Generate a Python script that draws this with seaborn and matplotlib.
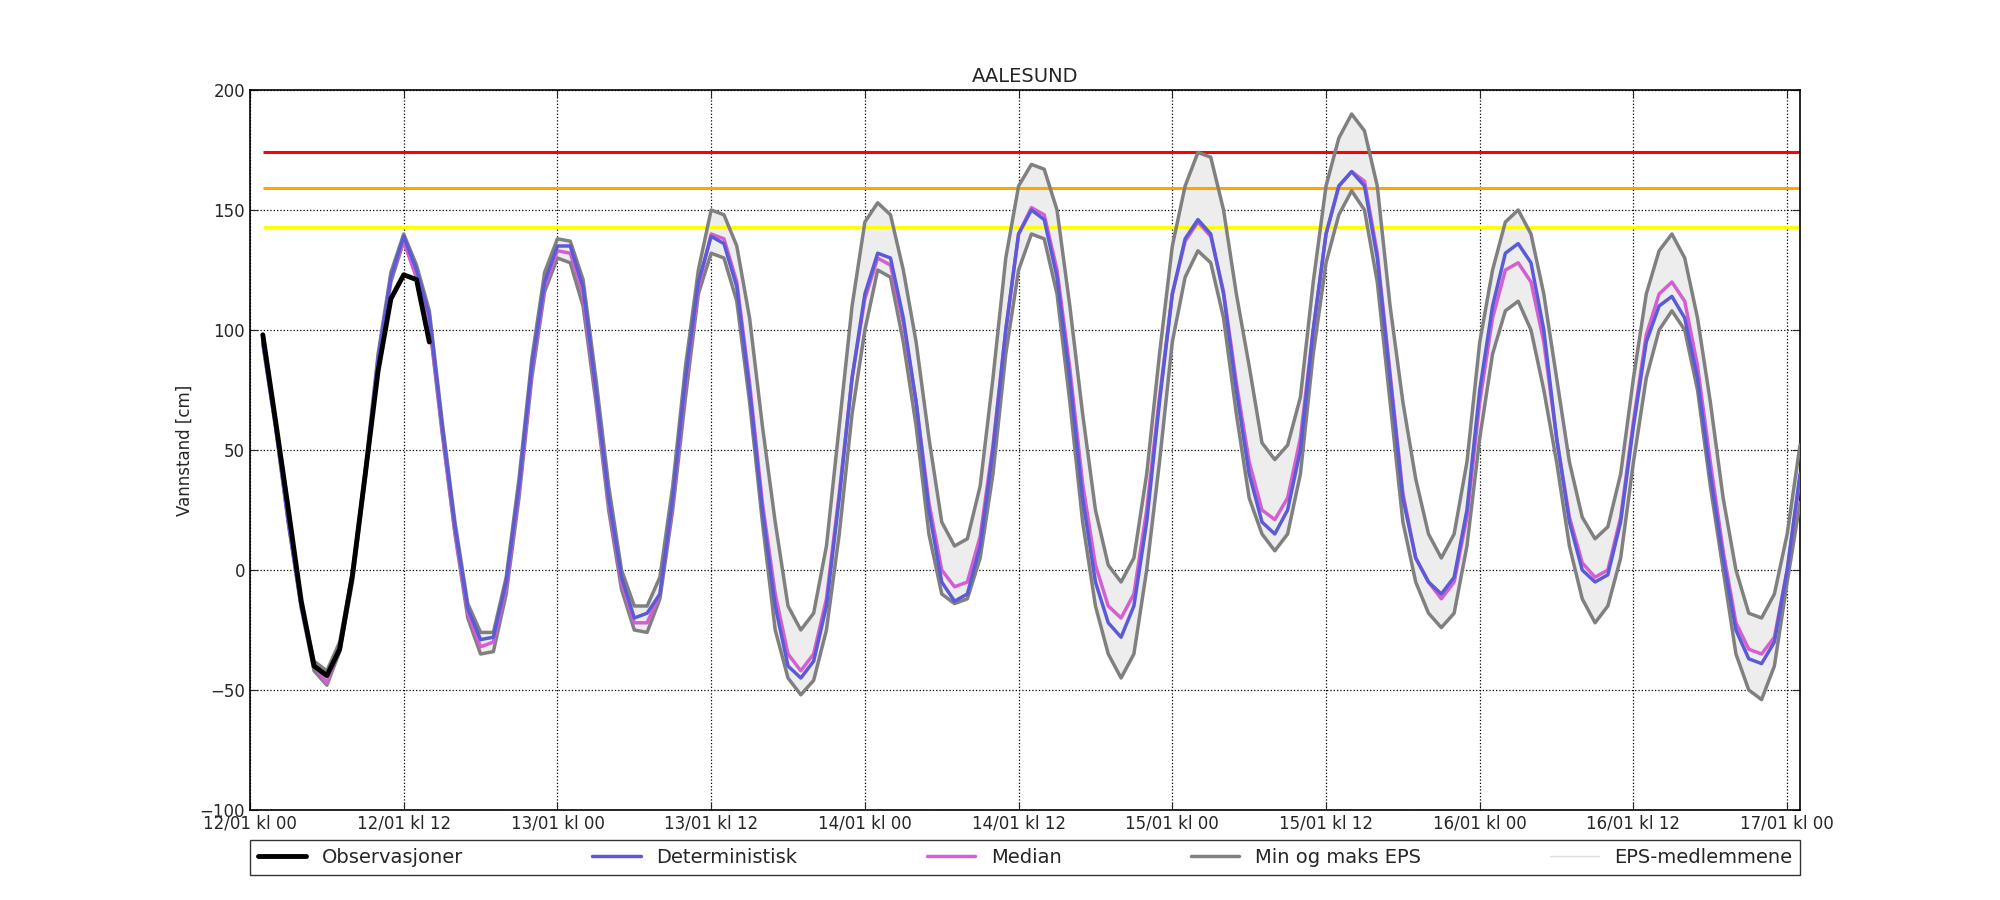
import numpy as np
import pandas as pd
import matplotlib
matplotlib.use("Agg")
import matplotlib.pyplot as plt
import seaborn as sns
from matplotlib.lines import Line2D

obs = [98,62,25,-13,-40,-44,-33,-2,40,83,113,123,121,95]
det = [95,60,20,-15,-40,-44,-32,-3,40,88,
       122,139,125,106,60,18,-16,-29,-28,-5,
       35,85,120,135,135,118,75,30,-3,-20,
       -18,-10,30,80,120,139,136,118,75,25,
       -15,-40,-45,-38,-15,30,80,115,132,130,
       105,70,25,-5,-13,-10,10,50,100,140,
       150,146,122,80,30,-5,-22,-28,-15,20,
       70,115,138,146,140,115,75,40,20,15,
       25,50,100,140,160,166,160,130,80,30,
       5,-5,-10,-3,25,75,110,132,136,128,
       100,55,20,0,-5,-2,20,60,95,110,
       114,105,80,40,5,-25,-37,-39,-30,0,
       40]
med = [95,60,20,-15,-40,-47,-32,-3,40,88,
       122,137,122,104,58,16,-18,-32,-30,-7,
       33,83,118,133,132,115,73,28,-5,-22,
       -22,-10,28,78,118,140,138,120,78,28,
       -10,-35,-42,-35,-12,32,80,113,130,127,
       103,70,28,0,-7,-5,14,52,100,140,
       151,148,125,84,36,2,-15,-20,-10,25,
       72,115,137,145,139,116,78,45,25,21,
       30,55,100,140,160,166,162,132,82,32,
       5,-5,-12,-5,22,70,105,125,128,120,
       95,55,22,3,-3,0,22,62,98,115,
       120,112,85,45,8,-22,-33,-35,-28,0,
       38]
eps_max = [96,61,21,-14,-38,-42,-30,-1,42,90,
       124,140,127,108,62,20,-14,-26,-26,-3,
       38,88,124,138,137,121,80,35,0,-15,
       -15,-3,35,85,125,150,148,135,105,60,
       20,-15,-25,-18,10,60,110,145,153,148,
       125,95,55,20,10,13,35,80,130,160,
       169,167,150,110,65,25,2,-5,5,40,
       90,135,160,174,172,150,115,85,53,46,
       52,72,120,160,180,190,183,160,110,70,
       38,15,5,15,45,95,125,145,150,140,
       115,80,45,22,13,18,40,80,115,133,
       140,130,105,70,30,0,-18,-20,-10,15,
       52]
eps_min = [94,59,19,-16,-42,-48,-34,-5,38,85,
       120,137,122,103,57,15,-20,-35,-34,-10,
       30,80,116,130,128,110,70,25,-8,-25,
       -26,-12,25,72,115,132,130,112,70,20,
       -25,-45,-52,-46,-25,15,65,100,125,122,
       95,60,15,-10,-14,-12,5,40,90,125,
       140,138,115,70,20,-15,-35,-45,-35,0,
       45,95,122,133,128,105,65,30,15,8,
       15,40,90,128,148,158,150,120,70,20,
       -5,-18,-24,-18,10,55,90,108,112,100,
       75,45,10,-12,-22,-15,5,45,80,100,
       108,100,75,35,0,-35,-50,-54,-40,-5,
       28]
thresholds = [174, 159, 143]
thr_colors = ["#ff0000", "#ffa500", "#ffff00"]
tick_labels = ["12/01 kl 00","12/01 kl 12","13/01 kl 00","13/01 kl 12","14/01 kl 00",
               "14/01 kl 12","15/01 kl 00","15/01 kl 12","16/01 kl 00","16/01 kl 12","17/01 kl 00"]

hours = np.arange(1, len(det) + 1)
obs_h = np.arange(1, len(obs) + 1)
df = pd.DataFrame({"h": hours, "det": det, "med": med, "lo": eps_min, "hi": eps_max})

sns.set_style("ticks")
plt.rcParams['font.family'] = ['DejaVu Sans']
fig = plt.figure(figsize=(20, 9), dpi=100)
ax = fig.add_axes([0.125, 0.1, 0.775, 0.8])

ax.fill_between(df.h, df.lo, df.hi, color="#ededed", lw=0, zorder=1)
for y, c in zip(thresholds, thr_colors):
    ax.hlines(y, 1, 121, color=c, lw=2.2, zorder=2)
sns.lineplot(data=df, x="h", y="hi", color="grey", lw=2.5, ax=ax, zorder=3)
sns.lineplot(data=df, x="h", y="lo", color="grey", lw=2.5, ax=ax, zorder=3)
sns.lineplot(data=df, x="h", y="med", color="#d35fd3", lw=2.5, ax=ax, zorder=4)
sns.lineplot(data=df, x="h", y="det", color="#5b5bd6", lw=2.5, ax=ax, zorder=5)
sns.lineplot(x=obs_h, y=obs, color="black", lw=3.5, ax=ax, zorder=6)

ax.set_xlim(0, 121)
ax.set_ylim(-100, 200)
ax.set_xticks(np.arange(0, 121, 12))
ax.set_xticklabels(tick_labels, fontsize=12)
ax.set_yticks(np.arange(-100, 201, 50))
ax.set_yticklabels(["\u2212100", "\u221250", "0", "50", "100", "150", "200"], fontsize=12)
ax.tick_params(direction="in", length=6, top=True, right=True)
ax.grid(True, color="black", linestyle=":", lw=0.9)
ax.set_xlabel("")
ax.set_ylabel("Vannstand [cm]", fontsize=12)
ax.set_title("AALESUND", fontsize=14)
for s in ax.spines.values():
    s.set_color("black"); s.set_linewidth(1.2)

handles = [Line2D([], [], color="black", lw=3.5),
           Line2D([], [], color="#5b5bd6", lw=2.5),
           Line2D([], [], color="#d35fd3", lw=2.5),
           Line2D([], [], color="grey", lw=2.5),
           Line2D([], [], color="#dddddd", lw=1)]
labels = ["Observasjoner", "Deterministisk", "Median", "Min og maks EPS", "EPS-medlemmene"]
leg = ax.legend(handles, labels, loc="lower left", bbox_to_anchor=(0, -0.09, 1, 0.05),
                mode="expand", ncol=5, fontsize=14, frameon=True, fancybox=False,
                borderaxespad=0, handlelength=2.5)
leg.get_frame().set_edgecolor("black")
leg.get_frame().set_linewidth(1.0)

fig.savefig("out.png", dpi=100)
